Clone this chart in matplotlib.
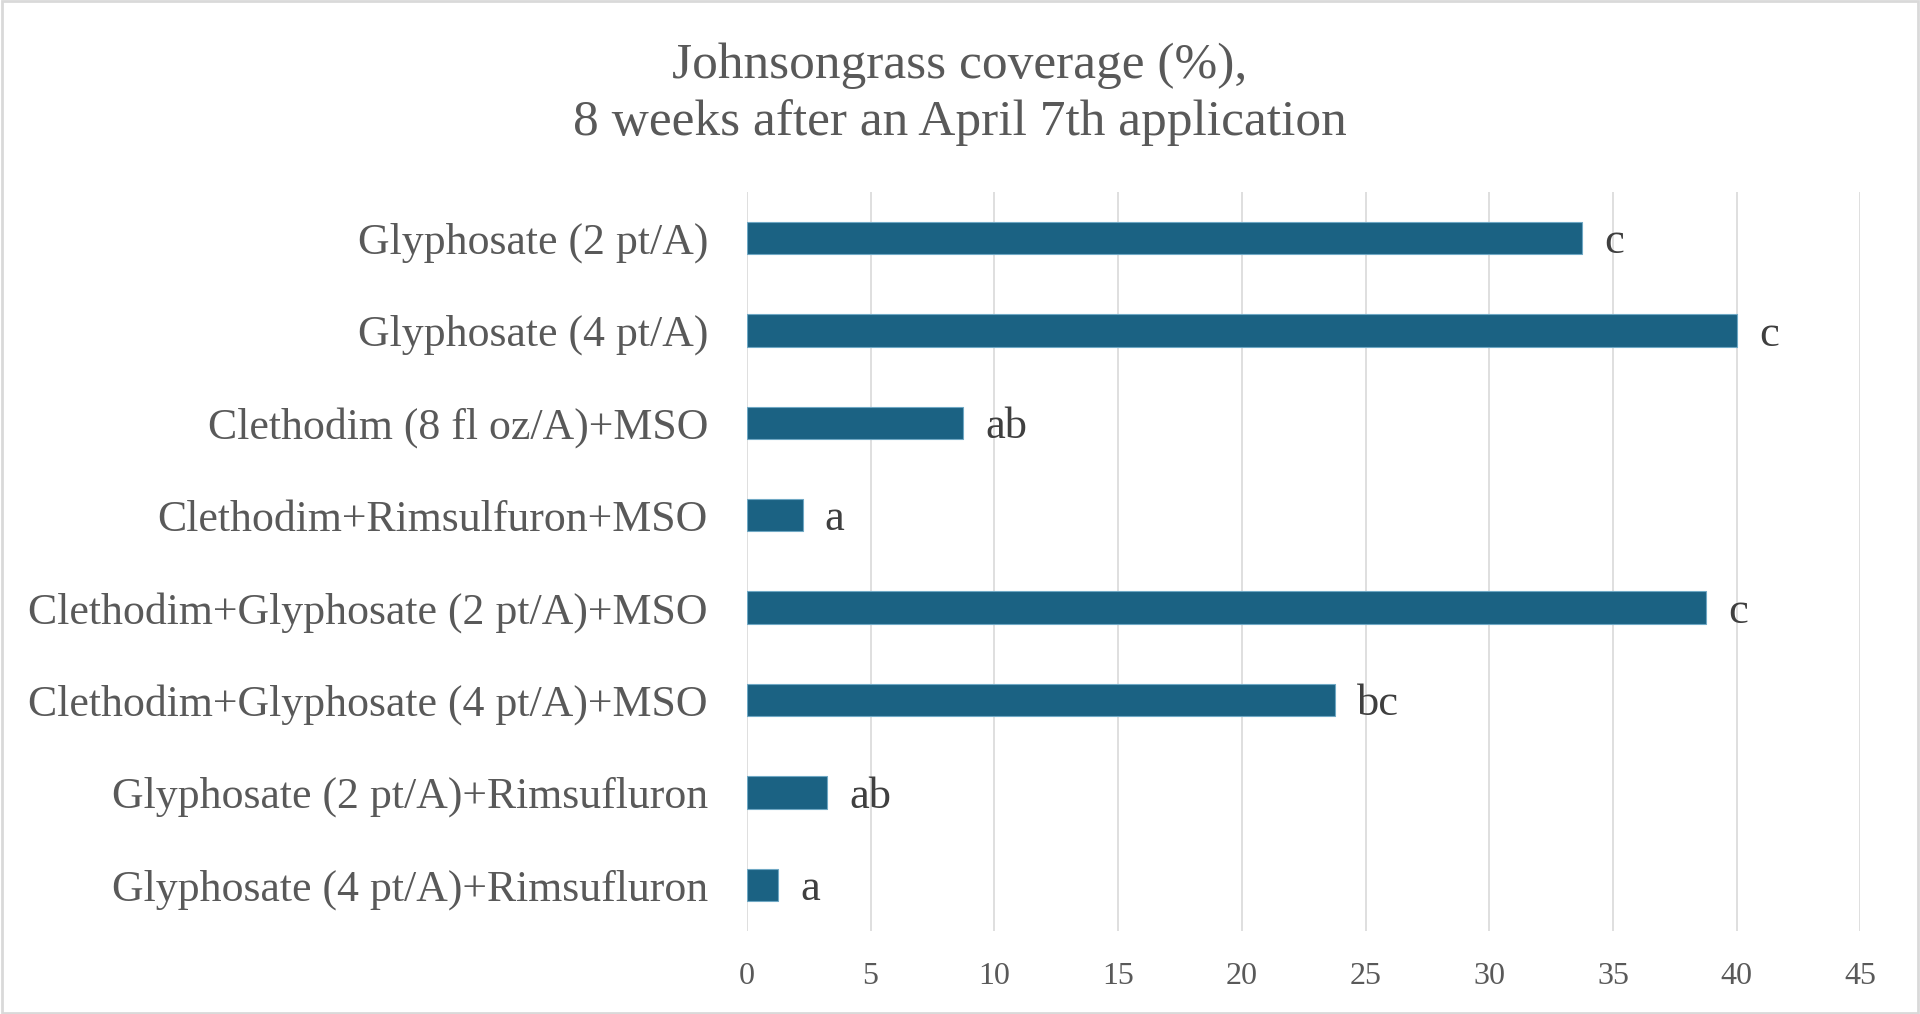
import matplotlib
matplotlib.use("Agg")
from matplotlib import pyplot as plt
from matplotlib.patches import Rectangle

treatments = [
    "Glyphosate (2 pt/A)",
    "Glyphosate (4 pt/A)",
    "Clethodim (8 fl oz/A)+MSO",
    "Clethodim+Rimsulfuron+MSO",
    "Clethodim+Glyphosate (2 pt/A)+MSO",
    "Clethodim+Glyphosate (4 pt/A)+MSO",
    "Glyphosate (2 pt/A)+Rimsufluron",
    "Glyphosate (4 pt/A)+Rimsufluron",
]
coverage = [33.75, 40.0, 8.75, 2.25, 38.75, 23.75, 3.25, 1.25]
letters = ["c", "c", "ab", "a", "c", "bc", "ab", "a"]
xticks = [0, 5, 10, 15, 20, 25, 30, 35, 40, 45]

bar_color = "#1B6283"
text_grey = "#595959"
grid_grey = "#D9D9D9"

plt.rcParams["font.family"] = ["Liberation Serif", "DejaVu Serif"]

fig = plt.figure(figsize=(19.2, 10.14), dpi=100)
ax = fig.add_axes([0.389, 0.0819, 0.580, 0.7288])

ypos = list(range(len(treatments)))
ax.barh(ypos, coverage, height=0.35, color=bar_color,
        edgecolor="#6FA8C4", linewidth=0.8, zorder=3)

for y, v, lab in zip(ypos, coverage, letters):
    ax.annotate(lab, xy=(v, y), xytext=(16, -3), textcoords="offset points",
                ha="left", va="center", fontsize=32, color="#3F3F3F")

ax.set_xlim(0, 45)
ax.set_ylim(len(treatments) - 0.5, -0.5)
ax.set_xticks(xticks)
ax.set_yticks(ypos)
ax.set_yticklabels(treatments)
ax.tick_params(axis="y", length=0, pad=28, labelsize=31.6, labelcolor=text_grey)
ax.tick_params(axis="x", length=0, pad=22, labelsize=23, labelcolor=text_grey)

ax.grid(axis="x", color=grid_grey, linewidth=1.2, zorder=0)
for s in ax.spines.values():
    s.set_visible(False)

fig.text(0.5, 0.907, "Johnsongrass coverage (%),\n8 weeks after an April 7th application",
         ha="center", va="center", fontsize=37, color=text_grey, linespacing=1.3)

# chart area border
fig.patches.append(Rectangle((0.001, 0.001), 0.998, 0.998, transform=fig.transFigure,
                             fill=False, edgecolor=grid_grey, linewidth=2))

fig.savefig("out.png", dpi=100)
